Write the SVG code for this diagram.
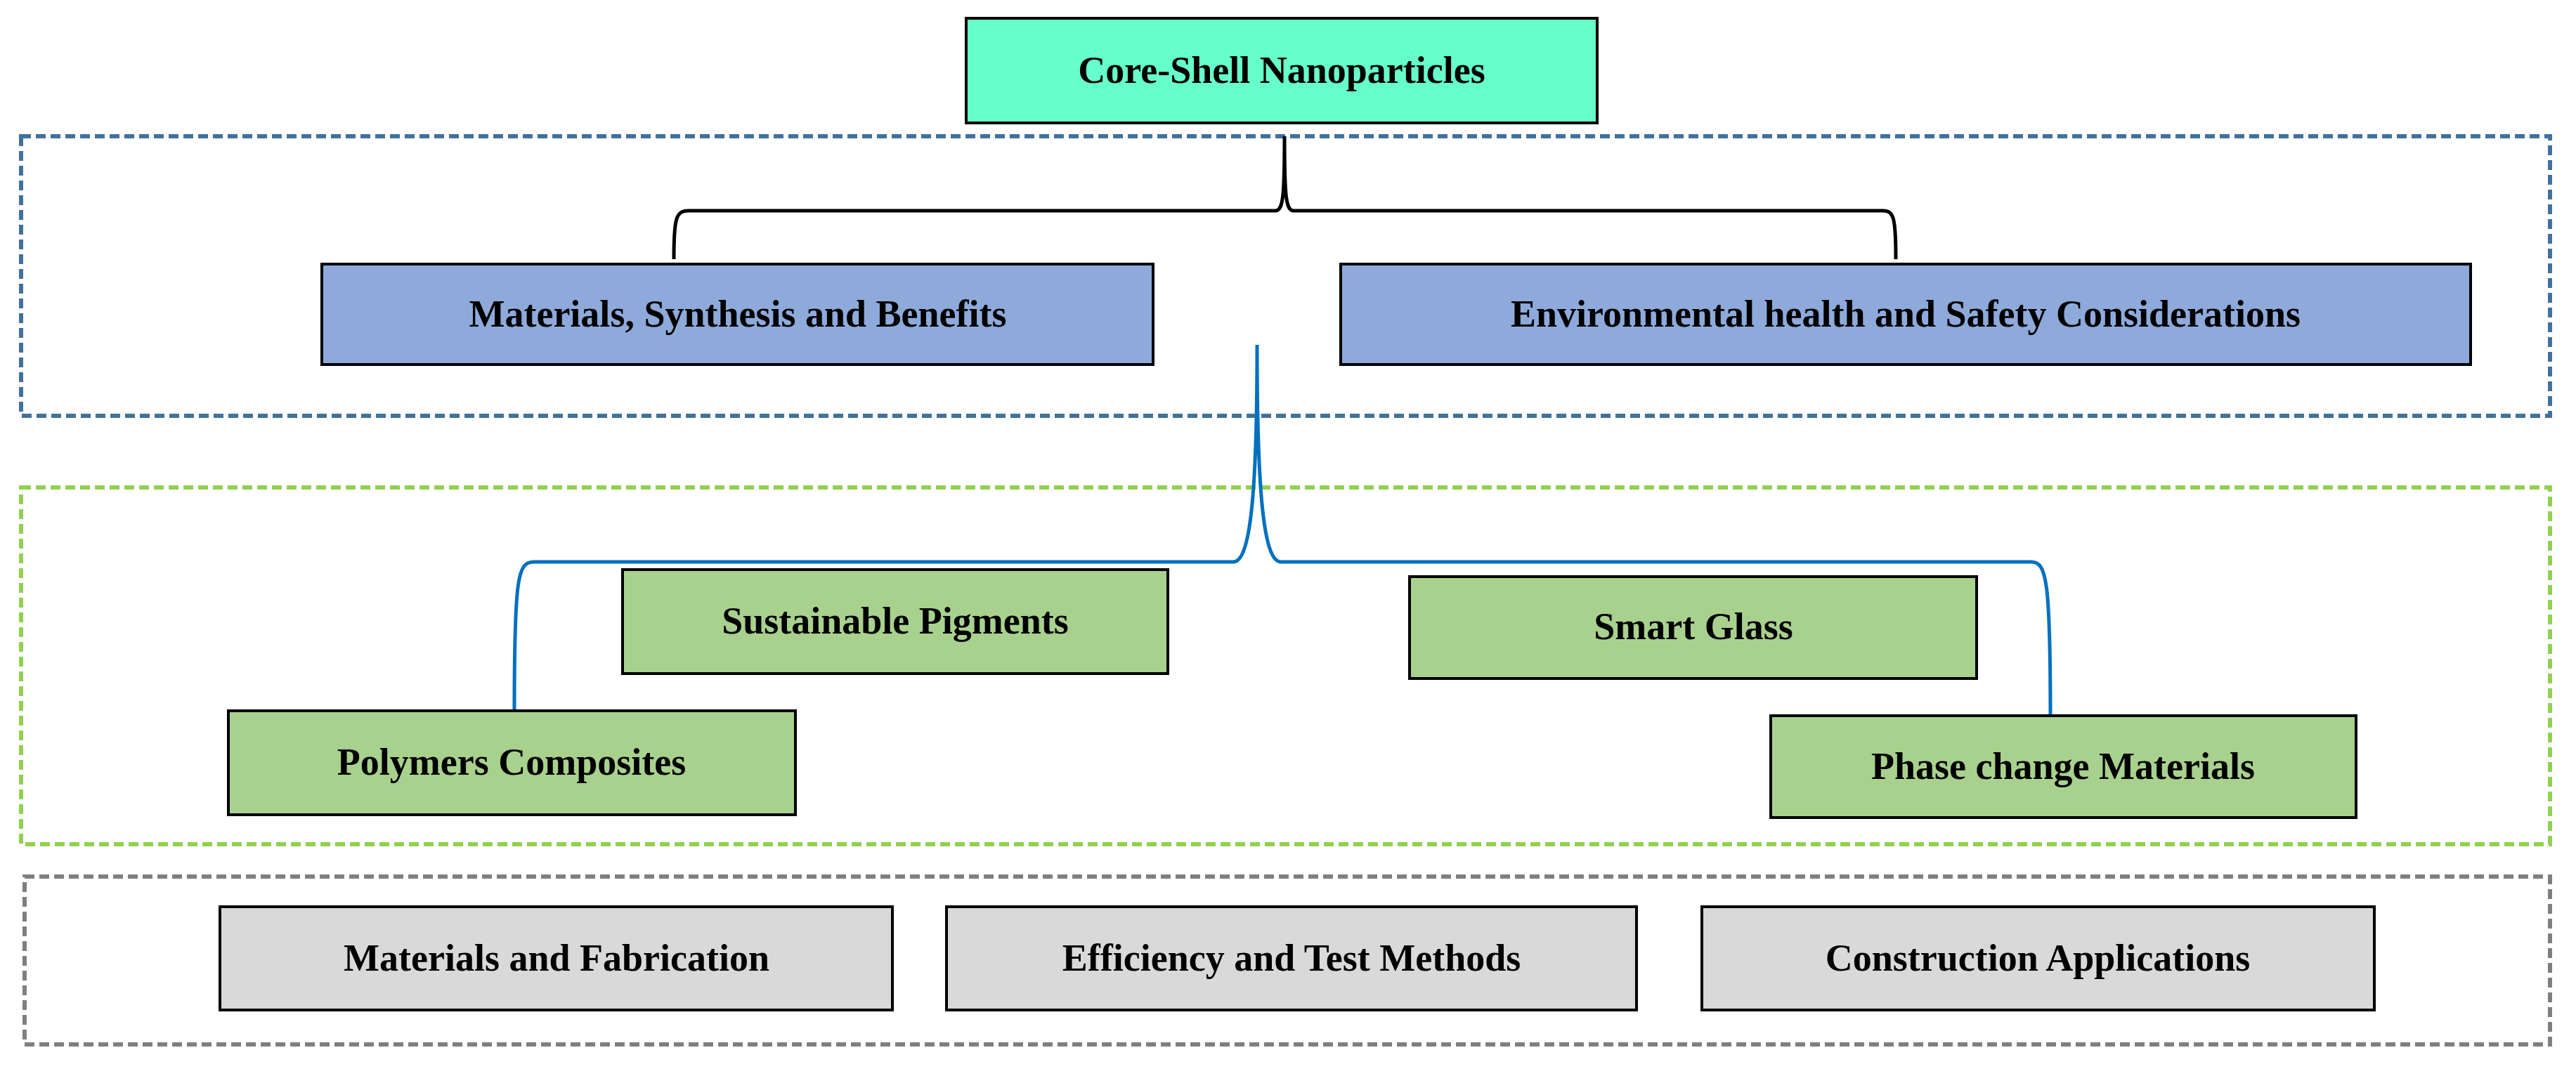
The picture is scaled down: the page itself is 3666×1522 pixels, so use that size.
<svg xmlns="http://www.w3.org/2000/svg" width="3666" height="1522" viewBox="0 0 3666 1522">
<style>
.t{font-family:"Liberation Serif","Times New Roman",serif;font-weight:bold;font-size:54px;text-anchor:middle;dominant-baseline:central;fill:#000}
.b{stroke:#000;stroke-width:4}
.frame{fill:none;stroke-width:6;stroke-dasharray:14 7}
</style>
<rect width="3666" height="1522" fill="#fff"/>
<g id="frames">
<rect class="frame" x="30" y="194" width="3599" height="398" stroke="#41719c"/>
<rect class="frame" x="30" y="694" width="3599" height="508" stroke="#92d050"/>
<rect class="frame" x="35" y="1248" width="3594" height="239" stroke="#7f7f7f"/>
</g>
<g id="connectors" fill="none">
<path d="M959,369 C959,310 962,300 980,300 L1815,300 C1826,300 1828,280 1828,194 C1828,280 1830,300 1841,300 L2680,300 C2695,300 2698,310 2698,369" stroke="#000" stroke-width="5"/>
<path d="M732,1010 C732,820 737,800 760,800 L1755,800 C1780,800 1789,700 1789,491 C1789,700 1798,800 1823,800 L2890,800 C2912,800 2918,820 2918,1022" stroke="#0070c0" stroke-width="5"/>
</g>
<g id="core"><rect class="b" x="1375" y="26" width="898" height="149" fill="#66ffcc"/><text class="t" x="1824" y="100">Core-Shell Nanoparticles</text></g>
<g id="materials"><rect class="b" x="458" y="376" width="1183" height="143" fill="#8eaadb"/><text class="t" x="1050" y="447">Materials, Synthesis and Benefits</text></g>
<g id="env"><rect class="b" x="1908" y="376" width="1608" height="143" fill="#8eaadb"/><text class="t" x="2712" y="447">Environmental health and Safety Considerations</text></g>
<g id="pigments"><rect class="b" x="886" y="811" width="776" height="148" fill="#a9d18e"/><text class="t" x="1274" y="884">Sustainable Pigments</text></g>
<g id="glass"><rect class="b" x="2006" y="821" width="807" height="145" fill="#a9d18e"/><text class="t" x="2410" y="892">Smart Glass</text></g>
<g id="polymers"><rect class="b" x="325" y="1012" width="807" height="148" fill="#a9d18e"/><text class="t" x="728" y="1085">Polymers Composites</text></g>
<g id="phase"><rect class="b" x="2520" y="1019" width="833" height="145" fill="#a9d18e"/><text class="t" x="2936" y="1091">Phase change Materials</text></g>
<g id="fab"><rect class="b" x="313" y="1291" width="957" height="147" fill="#d9d9d9"/><text class="t" x="792" y="1364">Materials and Fabrication</text></g>
<g id="eff"><rect class="b" x="1347" y="1291" width="982" height="147" fill="#d9d9d9"/><text class="t" x="1838" y="1364">Efficiency and Test Methods</text></g>
<g id="constr"><rect class="b" x="2422" y="1291" width="957" height="147" fill="#d9d9d9"/><text class="t" x="2900" y="1364">Construction Applications</text></g>
</svg>
